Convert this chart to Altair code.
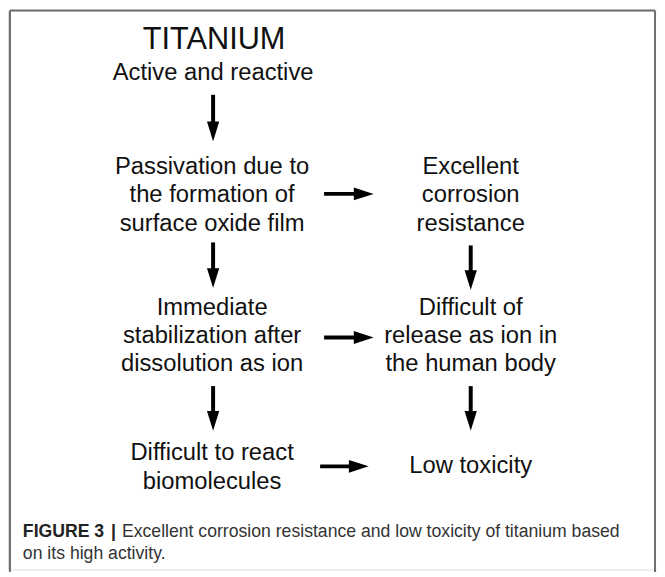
import altair as alt
import pandas as pd

# ---------------- content ----------------
title_text = "TITANIUM"
subtitle_text = "Active and reactive"
left_steps = [
    ["Passivation due to", "the formation of", "surface oxide film"],
    ["Immediate", "stabilization after", "dissolution as ion"],
    ["Difficult to react", "biomolecules"],
]
right_steps = [
    ["Excellent", "corrosion", "resistance"],
    ["Difficult of", "release as ion in", "the human body"],
    ["Low toxicity"],
]
caption_bold = "FIGURE 3"
caption_sep = "|"
caption_lines = [
    "Excellent corrosion resistance and low toxicity of titanium based",
    "on its high activity.",
]

# ---------------- layout (page pixels) ----------------
W, H = 655, 564
X0, Y0 = 8, 8
col_x = [214, 475]
left_first_baseline = [173, 315, 462]
right_first_baseline = [173, 315, 475]
line_gap = 28.5
title_pos = (216, 47)
subtitle_pos = (215, 78)
down_arrows = [(215, 93, 140), (215, 242, 288), (475, 245, 290), (215, 387, 432), (475, 387, 432)]
right_arrows = [(193, 327, 377), (338, 327, 377), (468, 323, 372)]
frame = [(10, 8, 661, 8), (10, 8, 10, 580), (661, 8, 661, 580)]
caption_x_bold, caption_x_sep, caption_x_reg, caption_y = 23, 112, 123, [539, 561]

FONT = "Liberation Sans"

xs = alt.Scale(domain=[X0, X0 + W], nice=False, zero=False)
ys = alt.Scale(domain=[Y0, Y0 + H], nice=False, zero=False, reverse=True)

def X(f="x"):
    return alt.X(f"{f}:Q", scale=xs, axis=None)

def Y(f="y"):
    return alt.Y(f"{f}:Q", scale=ys, axis=None)

# text rows for nodes
rows = []
for steps, firsts, cx in [(left_steps, left_first_baseline, col_x[0]),
                          (right_steps, right_first_baseline, col_x[1])]:
    for lines, b in zip(steps, firsts):
        for i, t in enumerate(lines):
            rows.append({"x": cx, "y": b + i * line_gap, "text": t})
nodes_df = pd.DataFrame(rows)

nodes = alt.Chart(nodes_df).mark_text(
    font=FONT, fontSize=24, color="#111111", align="center", baseline="alphabetic"
).encode(x=X(), y=Y(), text="text:N")

title = alt.Chart(pd.DataFrame([{"x": title_pos[0], "y": title_pos[1], "text": title_text}])).mark_text(
    font=FONT, fontSize=31, color="#111111", align="center", baseline="alphabetic"
).encode(x=X(), y=Y(), text="text:N")

subtitle = alt.Chart(pd.DataFrame([{"x": subtitle_pos[0], "y": subtitle_pos[1], "text": subtitle_text}])).mark_text(
    font=FONT, fontSize=24, color="#111111", align="center", baseline="alphabetic"
).encode(x=X(), y=Y(), text="text:N")

# arrows
shaft_rows = []
head_down = []
head_right = []
for x, yt, ytip in down_arrows:
    shaft_rows.append({"x": x, "y": yt, "x2": x, "y2": ytip - 16})
    head_down.append({"x": x, "y": ytip - 10})
for y, xs0, xtip in right_arrows:
    shaft_rows.append({"x": xs0, "y": y, "x2": xtip - 16, "y2": y})
    head_right.append({"x": xtip - 10, "y": y})

shafts = alt.Chart(pd.DataFrame(shaft_rows)).mark_rule(
    color="#000000", strokeWidth=4
).encode(x=X(), y=Y(), x2="x2:Q", y2="y2:Q")

heads_d = alt.Chart(pd.DataFrame(head_down)).mark_point(
    shape="M-0.62,-1L0.62,-1L0,1Z", size=400, filled=True, color="#000000", opacity=1
).encode(x=X(), y=Y())

heads_r = alt.Chart(pd.DataFrame(head_right)).mark_point(
    shape="M-1,-0.65L1,0L-1,0.65Z", size=400, filled=True, color="#000000", opacity=1
).encode(x=X(), y=Y())

# frame
frame_df = pd.DataFrame([{"x": a, "y": b, "x2": c, "y2": d} for a, b, c, d in frame])
frame_layer = alt.Chart(frame_df).mark_rule(color="#6e6e6e", strokeWidth=2).encode(
    x=X(), y=Y(), x2="x2:Q", y2="y2:Q"
)

# caption
cap_bold = alt.Chart(pd.DataFrame([
    {"x": caption_x_bold, "y": caption_y[0], "text": caption_bold},
    {"x": caption_x_sep, "y": caption_y[0], "text": caption_sep},
])).mark_text(
    font=FONT, fontSize=17.8, fontWeight="bold", color="#222222", align="left", baseline="alphabetic"
).encode(x=X(), y=Y(), text="text:N")

cap_reg = alt.Chart(pd.DataFrame([
    {"x": caption_x_reg, "y": caption_y[0], "text": caption_lines[0]},
    {"x": caption_x_bold, "y": caption_y[1], "text": caption_lines[1]},
])).mark_text(
    font=FONT, fontSize=17.8, color="#333333", align="left", baseline="alphabetic"
).encode(x=X(), y=Y(), text="text:N")

chart = alt.layer(
    frame_layer, title, subtitle, nodes, shafts, heads_d, heads_r, cap_bold, cap_reg
).properties(
    width=W, height=H, padding=0, autosize=alt.AutoSizeParams(type="none")
).configure_view(stroke=None).configure(background="white")

chart.save("out.html", embed_options={"renderer": "svg", "actions": False})
